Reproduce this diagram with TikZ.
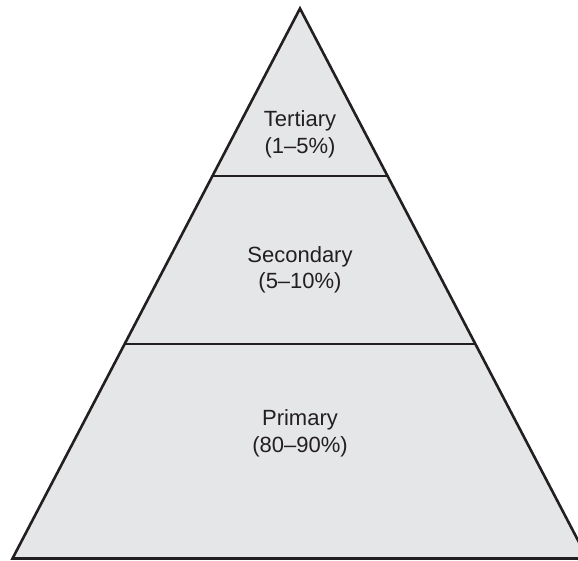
\documentclass[tikz,border=0pt]{standalone}
\usepackage{fontspec}
\setmainfont{Liberation Sans}
\usetikzlibrary{calc}
\definecolor{pyramid}{RGB}{229,230,232}
\definecolor{ink}{RGB}{35,31,32}

\begin{document}
\begin{tikzpicture}[x=1pt, y=-1pt,
    tier/.style ={align=center, text=ink, font=\fontsize{22}{26.5}\selectfont}]
   \useasboundingbox (0,0) rectangle (578,561);
   \coordinate (T) at (300,8.5);
   \coordinate (L) at (12.5,558.5);
   \coordinate (R) at (587.5,558.5);
   \coordinate (A) at ($(T)!0.3054!(L)$);
   \coordinate (B) at ($(T)!0.3054!(R)$);
   \coordinate (C) at ($(T)!0.6109!(L)$);
   \coordinate (D) at ($(T)!0.6109!(R)$);

   \filldraw[fill=pyramid, draw=ink, line width=2.6pt] (L) -- (T) -- (R) -- cycle;
   \draw[ink, line width=2pt] (A) to (B);
   \draw[ink, line width=2pt] (C) to (D);

   \node[tier] (tertiary) at (300,134.5) {Tertiary\\(1--5\%)};
   \node[tier] (secondary) at (300,270) {Secondary\\(5--10\%)};
   \node[tier] (primary) at (300,433.5) {Primary\\(80--90\%)};
 \end{tikzpicture}
\end{document}
